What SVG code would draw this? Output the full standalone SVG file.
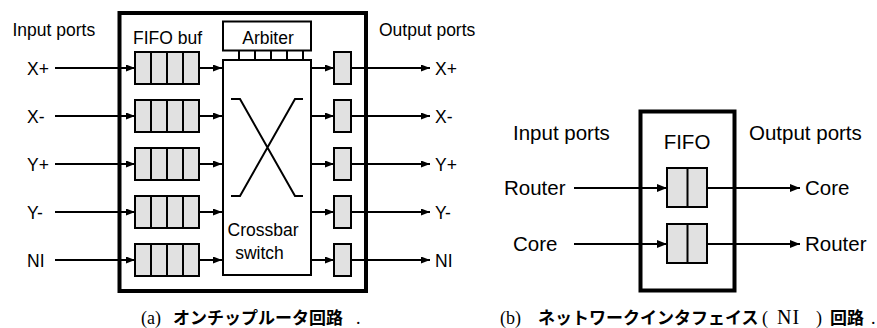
<svg xmlns="http://www.w3.org/2000/svg" width="877" height="328" viewBox="0 0 877 328">
  <defs>
    <marker id="ah" viewBox="0 0 9 7" refX="9" refY="3.5" markerWidth="9" markerHeight="7" markerUnits="userSpaceOnUse" orient="auto">
      <path d="M0,0 L9,3.5 L0,7 z" fill="#000"/>
    </marker>
    <marker id="ahb" viewBox="0 0 10 8" refX="10" refY="4" markerWidth="10" markerHeight="8" markerUnits="userSpaceOnUse" orient="auto">
      <path d="M0,0 L10,4 L0,8 z" fill="#000"/>
    </marker>
  </defs>
  <style>
    .t { font-family: "Liberation Sans", Arial, sans-serif; fill: #000; }
    .ta { font-size: 17.5px; }
    .tb { font-size: 20.5px; }
    .cap { font-family: "Liberation Serif", "Noto Sans CJK JP", serif; font-size: 18px; fill: #000; }
    .jp { font-family: "Noto Sans CJK JP", "Liberation Sans", sans-serif; font-weight: 600; font-size: 17px; }
    .outer { fill: #fff; stroke: #000; stroke-width: 4; }
    .box { fill: #fff; stroke: #000; stroke-width: 2; }
    .buf { fill: #e1e1e1; stroke: #000; stroke-width: 2; }
    .div { stroke: #000; stroke-width: 2; }
    .ln { stroke: #000; stroke-width: 2; fill: none; }
    .arr { stroke: #000; stroke-width: 2; fill: none; marker-end: url(#ah); }
    .arrb { stroke: #000; stroke-width: 2; fill: none; marker-end: url(#ahb); }
  </style>

  <!-- (a) On-chip router -->
  <g id="router">
    <rect class="outer" x="119.5" y="13" width="246.5" height="278"/>
  </g>

  <g id="arbiter">
    <rect class="box" x="223" y="21.5" width="88" height="29"/>
    <text class="t ta" x="268" y="44" text-anchor="middle">Arbiter</text>
    <path class="ln" d="M239,50.5 V60 M255,50.5 V60 M271,50.5 V60 M287,50.5 V60 M303,50.5 V60"/>
  </g>

  <g id="crossbar">
    <rect class="box" x="223" y="60" width="88" height="215"/>
    <path class="ln" d="M231,99 H240 L295,196 H303 M303,99 H295 L240,196 H231"/>
    <text class="t ta" x="263" y="236" text-anchor="middle">Crossbar</text>
    <text class="t ta" x="259.5" y="259" text-anchor="middle">switch</text>
  </g>

  <g id="in-buf-xp">
    <rect class="buf" x="135" y="52" width="64" height="32"/>
    <path class="div" d="M151,52 V84 M167,52 V84 M183,52 V84"/>
  </g>
  <g id="in-buf-xm">
    <rect class="buf" x="135" y="100" width="64" height="32"/>
    <path class="div" d="M151,100 V132 M167,100 V132 M183,100 V132"/>
  </g>
  <g id="in-buf-yp">
    <rect class="buf" x="135" y="148" width="64" height="32"/>
    <path class="div" d="M151,148 V180 M167,148 V180 M183,148 V180"/>
  </g>
  <g id="in-buf-ym">
    <rect class="buf" x="135" y="196" width="64" height="32"/>
    <path class="div" d="M151,196 V228 M167,196 V228 M183,196 V228"/>
  </g>
  <g id="in-buf-ni">
    <rect class="buf" x="135" y="244" width="64" height="32"/>
    <path class="div" d="M151,244 V276 M167,244 V276 M183,244 V276"/>
  </g>

  <g id="out-buf-xp"><rect class="buf" x="334" y="52" width="17" height="32"/></g>
  <g id="out-buf-xm"><rect class="buf" x="334" y="100" width="17" height="32"/></g>
  <g id="out-buf-yp"><rect class="buf" x="334" y="148" width="17" height="32"/></g>
  <g id="out-buf-ym"><rect class="buf" x="334" y="196" width="17" height="32"/></g>
  <g id="out-buf-ni"><rect class="buf" x="334" y="244" width="17" height="32"/></g>

  <g id="labels-a">
    <text class="t ta" x="12.5" y="35.5">Input ports</text>
    <text class="t ta" x="133" y="43.5">FIFO buf</text>
    <text class="t ta" x="379" y="35.5">Output ports</text>
    <text class="t ta" x="27" y="74.5">X+</text>
    <text class="t ta" x="27" y="122.5">X-</text>
    <text class="t ta" x="27" y="170.5">Y+</text>
    <text class="t ta" x="27" y="218.5">Y-</text>
    <text class="t ta" x="27" y="266.5">NI</text>
    <text class="t ta" x="435" y="74.5">X+</text>
    <text class="t ta" x="435" y="122.5">X-</text>
    <text class="t ta" x="435" y="170.5">Y+</text>
    <text class="t ta" x="435" y="218.5">Y-</text>
    <text class="t ta" x="435" y="266.5">NI</text>
  </g>

  <!-- (b) Network interface -->
  <g id="ni">
    <rect class="outer" x="640.5" y="111.5" width="94" height="179"/>
    <text class="t tb" x="687" y="149" text-anchor="middle">FIFO</text>
  </g>
  <g id="ni-buf-1">
    <rect class="buf" x="667" y="168" width="40" height="39"/>
    <path class="div" d="M687.5,168 V207"/>
  </g>
  <g id="ni-buf-2">
    <rect class="buf" x="667" y="224" width="40" height="39"/>
    <path class="div" d="M687.5,224 V263"/>
  </g>
  <g id="labels-b">
    <text class="t tb" x="513" y="140">Input ports</text>
    <text class="t tb" x="749" y="140">Output ports</text>
    <text class="t tb" x="504" y="195">Router</text>
    <text class="t tb" x="513" y="251">Core</text>
    <text class="t tb" x="805" y="195">Core</text>
    <text class="t tb" x="805" y="251">Router</text>
  </g>

  <g id="connectors">
    <path class="arr" d="M55,68 H135"/>
    <path class="arr" d="M55,116 H135"/>
    <path class="arr" d="M55,164 H135"/>
    <path class="arr" d="M55,212 H135"/>
    <path class="arr" d="M55,260 H135"/>
    <path class="arr" d="M199,68 H222"/>
    <path class="arr" d="M199,116 H222"/>
    <path class="arr" d="M199,164 H222"/>
    <path class="arr" d="M199,212 H222"/>
    <path class="arr" d="M199,260 H222"/>
    <path class="arr" d="M311,68 H334"/>
    <path class="arr" d="M311,116 H334"/>
    <path class="arr" d="M311,164 H334"/>
    <path class="arr" d="M311,212 H334"/>
    <path class="arr" d="M311,260 H334"/>
    <path class="arr" d="M351,68 H430"/>
    <path class="arr" d="M351,116 H430"/>
    <path class="arr" d="M351,164 H430"/>
    <path class="arr" d="M351,212 H430"/>
    <path class="arr" d="M351,260 H430"/>
    <path class="arrb" d="M574,188 H667"/>
    <path class="arrb" d="M574,244 H667"/>
    <path class="arrb" d="M707,188 H800"/>
    <path class="arrb" d="M707,244 H800"/>
  </g>

  <g id="captions">
    <text class="cap" y="324"><tspan x="141">(a)</tspan><tspan class="jp" x="173">オンチップルータ回路</tspan><tspan x="356">.</tspan></text>
    <text class="cap" y="324"><tspan x="500">(b)</tspan><tspan class="jp" x="538">ネットワークインタフェイス</tspan><tspan x="762">(</tspan><tspan x="777" font-size="20" letter-spacing="1">NI</tspan><tspan x="816">)</tspan><tspan class="jp" x="830">回路</tspan><tspan x="871">.</tspan></text>
  </g>
</svg>
